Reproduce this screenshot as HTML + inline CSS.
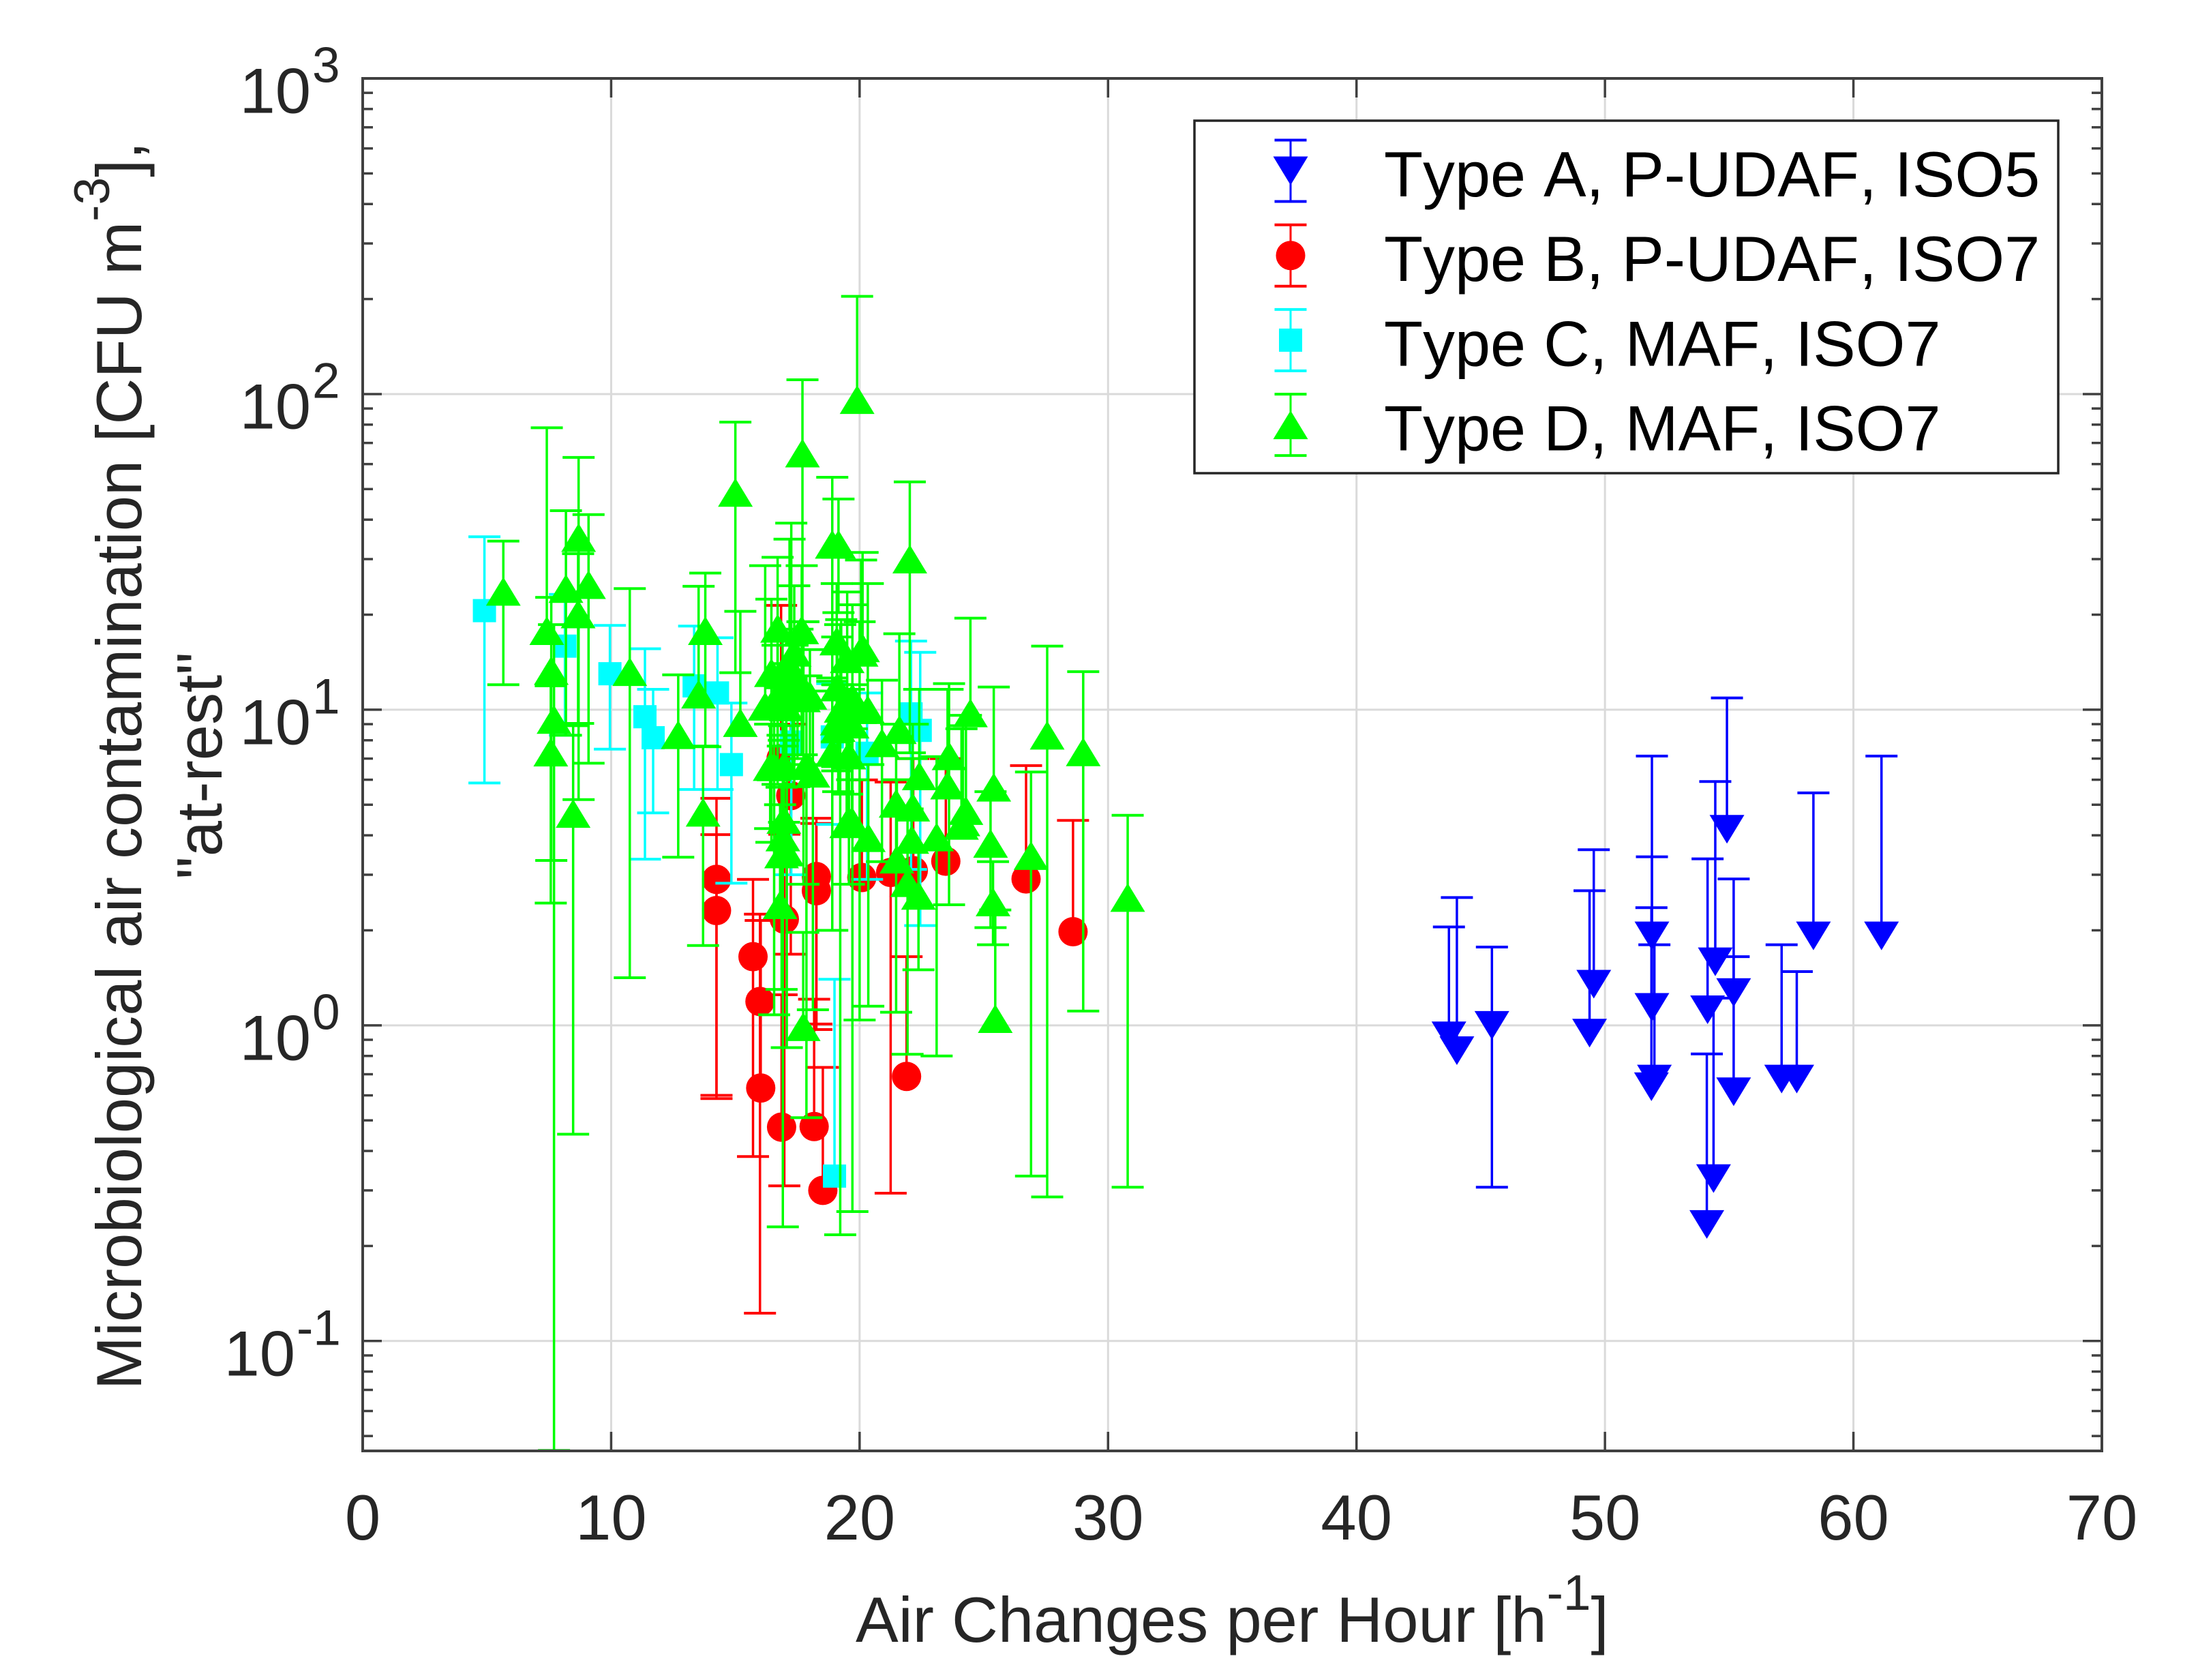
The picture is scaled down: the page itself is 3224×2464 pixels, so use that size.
<!DOCTYPE html>
<html lang="en">
<head>
<meta charset="utf-8">
<title>Microbiological air contamination vs air changes per hour</title>
<style>
  html,body{margin:0;padding:0;background:#fff;}
  svg{display:block;}
  text{font-family:"Liberation Sans",Arial,sans-serif;}
  #legend text{font-kerning:none;}
</style>
</head>
<body>
<svg id="chart" xmlns="http://www.w3.org/2000/svg" width="3224" height="2464" viewBox="0 0 3224 2464">
  <rect x="0" y="0" width="3224" height="2464" fill="#fff"/>
  <g id="grid"></g>
  <g id="series"></g>
  <g id="axes"></g>
  <g id="legend"></g>
  <text x="1255" y="2408" font-size="94" fill="#262626">Air Changes per Hour [h<tspan font-size="73" dy="-47">-1</tspan><tspan dy="47">]</tspan></text>
  <text transform="translate(207,1123) rotate(-90)" text-anchor="middle" font-size="94" fill="#262626">Microbiological air contamination [CFU m<tspan font-size="73" dy="-47">-3</tspan><tspan dy="47">],</tspan></text>
  <text transform="translate(325,1123) rotate(-90)" text-anchor="middle" font-size="94" fill="#262626">"at-rest"</text>
</svg>
<script>
// ---- Axis tick values ----
const xTickValues = [0, 10, 20, 30, 40, 50, 60, 70];
const yTickExponents = [-1, 0, 1, 2, 3];
const yMinorFactors = [2, 3, 4, 5, 6, 7, 8, 9];
const xDomain = [0, 70];
const yDomain = [0.04485, 1000];

// ---- Type A, P-UDAF, ISO5 ----
const typeAX = [43.72,44.04,45.45,49.38,49.55,51.89,51.89,51.87,51.99,54.13,54.44,54.91,55.18,55.18,54.10,54.37,57.11,57.72,58.39,61.13];
const typeAY = [0.926,0.831,1.00,0.945,1.35,1.92,1.14,0.639,0.676,1.12,1.59,4.18,1.27,0.616,0.234,0.327,0.676,0.676,1.92,1.92];
const typeAUpper = [2.05,2.54,1.77,2.67,3.60,7.13,3.42,2.36,1.80,3.37,5.92,10.9,2.91,1.65,0.812,1.22,1.80,1.48,5.45,7.13];
const typeALower = [null,null,0.307,null,null,null,null,null,null,null,null,null,null,null,null,null,null,null,null,null];

// ---- Type B, P-UDAF, ISO7 ----
const typeBX = [14.24,14.24,15.71,15.99,16.02,16.86,18.17,18.52,16.97,18.26,18.26,17.23,16.84,20.09,21.25,21.89,22.16,23.47,26.70,28.59];
const typeBY = [2.90,2.31,1.65,1.19,0.633,0.476,0.478,0.30,2.17,2.96,2.67,5.34,7.0,2.94,3.05,0.689,3.09,3.31,2.91,1.98];
const typeBUpper = [5.24,4.02,2.90,2.25,2.15,1.25,1.21,0.736,4.03,4.53,4.36,9.0,21.4,5.99,5.9,1.65,7.0,7.0,6.65,4.46];
const typeBLower = [0.586,0.60,0.384,0.1225,null,null,null,null,0.31,1.01,0.97,1.68,null,null,0.294,null,null,null,null,null];

// ---- Type C, MAF, ISO7 ----
const typeCX = [4.90,8.14,9.95,11.36,11.69,13.34,14.28,14.84,22.07,22.44,20.30,17.25,18.90,18.99];
const typeCY = [20.6,15.9,13.0,9.5,8.15,11.9,11.3,6.7,9.7,8.6,7.28,7.9,8.2,0.333];
const typeCUpper = [35.3,23.2,18.5,15.6,11.6,18.4,16.9,10.5,16.5,15.2,11.3,11.8,12.1,1.40];
const typeCLower = [5.86,8.3,7.5,3.36,4.71,5.59,5.59,2.82,3.12,2.07,2.9,3.0,4.33,null];

// ---- Type D, MAF, ISO7 ----
const typeDX = [5.66,7.41,7.59,7.70,7.57,8.18,8.69,8.67,9.09,8.47,10.75,12.70,13.52,13.79,13.70,15.0,15.2,19.9,17.7,22.02,18.9,19.15,16.7,17.67,17.37,16.45,16.2,17.18,17.25,17.74,19.08,20.12,19.5,19.71,19.26,20.33,19.22,20.0,20.06,20.35,20.9,21.6,24.46,27.55,29.0,26.9,25.4,25.27,25.37,25.46,30.79,21.47,22.14,22.4,23.6,23.54,24.28,24.16,16.56,16.86,17.07,16.91,17.86,18.12,16.8,17.73,19.48,19.69,18.9,19.57,19.14,21.5,21.93,22.37,23.1,22.1,24.1,16.95,16.9,17.5,16.7,17.3,18.0,17.05,16.96,16.4,19.1,19.1,19.7];
const typeDY = [23.7,17.8,13.3,9.31,7.34,24.2,35.1,20.1,24.9,4.69,13.2,8.33,11.2,17.8,4.73,48.8,9.1,96,65,30,33.4,33.4,18.1,17.9,15.2,13.1,10.25,11.2,13.5,10.9,16.5,15.7,14.5,10.9,10.1,10,9.4,10.0,15.2,3.93,7.85,8.64,9.77,8.3,7.35,3.45,5.68,3.77,2.46,1.05,2.54,5.05,4.91,6.17,7.14,5.77,4.79,4.41,6.59,3.49,3.54,3.95,6.65,6.29,2.41,0.99,4.35,4.44,7.32,7.18,8.77,3.36,2.83,2.58,3.95,3.88,4.3,4.49,12.9,12.5,11.1,11.1,11.1,10.2,6.65,6.6,11.8,9.2,9.0];
const typeDUpper = [34.2,78.2,22.7,18.6,11.9,42.7,63,31.2,41.5,8.9,24.2,12.9,24.6,27.1,7.67,81.5,20.5,204,111,52.7,54.5,46.5,30.4,28.6,24.7,22.4,28.6,34.7,39,19,25.1,31.5,23.6,21.5,19.3,25.1,18.6,19,29.8,6.7,12.4,17.4,19.5,15.9,13.2,6.35,11.8,5.5,3.3,2.32,4.63,9,9.0,11.6,12.1,11.6,9.6,8.9,12.1,5.68,6.23,7.67,12.8,11.46,5,1.97,8.6,8.7,12.6,11.6,12,6,4.85,3.66,7.1,7,8.7,8,17.5,18,16,16,15.5,14,8.9,9,17,12,12];
const typeDLower = [12.0,null,3.33,0.045,2.44,8.3,5.19,9.05,6.77,0.452,1.415,3.41,null,7.63,1.79,13.1,null,null,19,7.3,12.3,20.3,5.8,7.2,5.7,3.8,null,null,null,2.8,7.9,null,5.4,0.257,null,null,0.217,1.04,null,1.15,3.3,null,null,0.286,1.11,0.333,null,2.04,1.8,null,0.307,1.1,null,null,2.41,null,null,null,1.08,1.30,0.85,0.23,0.51,1.12,null,null,null,null,2.0,2.8,5.5,null,0.81,1.5,0.80,null,null,null,8.3,7,6.2,6.2,6.7,6.4,4.4,4.2,6.6,6.4,6];

// ---- Legend labels ----
const legendLabels = ["Type A, P-UDAF, ISO5","Type B, P-UDAF, ISO7","Type C, MAF, ISO7","Type D, MAF, ISO7"];
const seriesColors = ["#0000ff","#ff0000","#00ffff","#00ff00"];
const seriesShapes = ["down","circle","square","up"];

// ---- Axis functions ----
const plotLeft = 532, plotRight = 3083, plotTop = 115, plotBottom = 2128;
function xScale(v){ return plotLeft + (v - xDomain[0]) / (xDomain[1] - xDomain[0]) * (plotRight - plotLeft); }
function yScale(v){ return plotBottom - (Math.log10(v) - Math.log10(yDomain[0])) / (Math.log10(yDomain[1]) - Math.log10(yDomain[0])) * (plotBottom - plotTop); }

const NS = "http://www.w3.org/2000/svg";
const gridG = document.getElementById("grid");
const axesG = document.getElementById("axes");
const seriesG = document.getElementById("series");
const legendG = document.getElementById("legend");

function line(parent, x1, y1, x2, y2, color, width, name){
  const el = document.createElementNS(NS, "line");
  el.setAttribute("x1", x1); el.setAttribute("y1", y1);
  el.setAttribute("x2", x2); el.setAttribute("y2", y2);
  el.setAttribute("stroke", color); el.setAttribute("stroke-width", width);
  
  
  parent.appendChild(el);
  return el;
}

function marker(parent, shape, cx, cy, color, name){
  let el;
  if (shape === "circle") {
    el = document.createElementNS(NS, "circle");
    el.setAttribute("cx", cx); el.setAttribute("cy", cy); el.setAttribute("r", 21.5);
  } else if (shape === "square") {
    el = document.createElementNS(NS, "rect");
    el.setAttribute("x", cx - 17); el.setAttribute("y", cy - 17);
    el.setAttribute("width", 34); el.setAttribute("height", 34);
  } else {
    el = document.createElementNS(NS, "polygon");
    const dir = shape === "up" ? 1 : -1;
    const pts = [[cx, cy - dir * 21], [cx - 25.5, cy + dir * 21], [cx + 25.5, cy + dir * 21]];
    el.setAttribute("points", pts.map(p => p.join(",")).join(" "));
  }
  el.setAttribute("fill", color);
  
  
  parent.appendChild(el);
}

function addText(parent, x, y, str, size, anchor, color, name){
  const el = document.createElementNS(NS, "text");
  el.setAttribute("x", x); el.setAttribute("y", y);
  el.setAttribute("font-size", size);
  el.setAttribute("text-anchor", anchor);
  el.setAttribute("fill", color);
  
  
  el.textContent = str;
  parent.appendChild(el);
  return el;
}

// ---- Grid ----
xTickValues.slice(1, -1).forEach(function(v){
  line(gridG, xScale(v), plotTop, xScale(v), plotBottom, "#dadada", 3, "x-grid-line");
});
yTickExponents.slice(0, -1).forEach(function(e){
  line(gridG, plotLeft, yScale(Math.pow(10, e)), plotRight, yScale(Math.pow(10, e)), "#dadada", 3, "y-grid-line");
});

// ---- Series ----
function drawSeries(xs, ys, ups, lows, color, shape, name){
  const g = document.createElementNS(NS, "g");
  
  
  seriesG.appendChild(g);
  xs.forEach(function(xv, i){
    const px = xScale(xv);
    const top = yScale(ups[i]);
    const bottom = lows[i] === null ? yScale(ys[i]) : yScale(lows[i]);
    line(g, px, top, px, bottom, color, 3.5, name + "-error-bar");
    line(g, px - 23.5, top, px + 23.5, top, color, 4, name + "-upper-cap");
    if (lows[i] !== null) {
      line(g, px - 23.5, bottom, px + 23.5, bottom, color, 4, name + "-lower-cap");
    }
    marker(g, shape, px, yScale(ys[i]), color, name + "-point");
  });
}
drawSeries(typeAX, typeAY, typeAUpper, typeALower, seriesColors[0], seriesShapes[0], "type-a");
drawSeries(typeBX, typeBY, typeBUpper, typeBLower, seriesColors[1], seriesShapes[1], "type-b");
drawSeries(typeCX, typeCY, typeCUpper, typeCLower, seriesColors[2], seriesShapes[2], "type-c");
drawSeries(typeDX, typeDY, typeDUpper, typeDLower, seriesColors[3], seriesShapes[3], "type-d");

// ---- Axes, ticks and labels ----
const axisColor = "#404040";
line(axesG, plotLeft, plotTop, plotRight, plotTop, axisColor, 4, "top-axis-line");
line(axesG, plotLeft, plotBottom, plotRight, plotBottom, axisColor, 4, "x-axis-line");
line(axesG, plotLeft, plotTop - 2, plotLeft, plotBottom + 2, axisColor, 4, "y-axis-line");
line(axesG, plotRight, plotTop - 2, plotRight, plotBottom + 2, axisColor, 4, "right-axis-line");

xTickValues.forEach(function(v){
  const px = xScale(v);
  if (v !== xDomain[0] && v !== xDomain[1]) {
    line(axesG, px, plotBottom, px, plotBottom - 28, axisColor, 3.5, "x-tick");
    line(axesG, px, plotTop, px, plotTop + 28, axisColor, 3.5, "x-top-tick");
  }
  addText(axesG, px, 2258, String(v), 94, "middle", "#262626", "x-tick-label");
});

yTickExponents.forEach(function(e){
  const py = yScale(Math.pow(10, e));
  if (e !== 3) {
    line(axesG, plotLeft, py, plotLeft + 28, py, axisColor, 3.5, "y-tick");
    line(axesG, plotRight, py, plotRight - 28, py, axisColor, 3.5, "y-right-tick");
  }
  const sup = String(e);
  const baseRight = e < 0 ? 433 : 456;
  addText(axesG, baseRight, py + 50.5, "10", 94, "end", "#262626", "y-tick-label-base");
  addText(axesG, baseRight + 2, py + 5.5, sup, 73, "start", "#262626", "y-tick-label-exponent");
  yMinorFactors.forEach(function(f){
    const val = f * Math.pow(10, e);
    if (val < yDomain[1] && val > yDomain[0]) {
      line(axesG, plotLeft, yScale(val), plotLeft + 15, yScale(val), axisColor, 3.5, "y-minor-tick");
      line(axesG, plotRight, yScale(val), plotRight - 15, yScale(val), axisColor, 3.5, "y-right-minor-tick");
    }
  });
});
yMinorFactors.forEach(function(f){
  const val = f * 0.01;
  if (val > yDomain[0]) {
    line(axesG, plotLeft, yScale(val), plotLeft + 15, yScale(val), axisColor, 3.5, "y-minor-tick");
    line(axesG, plotRight, yScale(val), plotRight - 15, yScale(val), axisColor, 3.5, "y-right-minor-tick");
  }
});

// ---- Legend ----
const legendBox = document.createElementNS(NS, "rect");
legendBox.setAttribute("x", 1752);
legendBox.setAttribute("y", 177);
legendBox.setAttribute("width", 1267);
legendBox.setAttribute("height", 517);
legendBox.setAttribute("fill", "#fff");
legendBox.setAttribute("stroke", "#262626");
legendBox.setAttribute("stroke-width", 3.5);


legendG.appendChild(legendBox);

legendLabels.forEach(function(label, i){
  const rowY = 250.5 + i * 124.2;
  const cx = 1893;
  line(legendG, cx, rowY - 45, cx, rowY + 45, seriesColors[i], 3, "legend-error-bar");
  line(legendG, cx - 23.5, rowY - 45, cx + 23.5, rowY - 45, seriesColors[i], 4, "legend-upper-cap");
  line(legendG, cx - 23.5, rowY + 45, cx + 23.5, rowY + 45, seriesColors[i], 4, "legend-lower-cap");
  marker(legendG, seriesShapes[i], cx, rowY, seriesColors[i], "legend-marker");
  addText(legendG, 2030, rowY + 37.5, label, 93.6, "start", "#000", "legend-entry");
});
</script>
</body>
</html>
